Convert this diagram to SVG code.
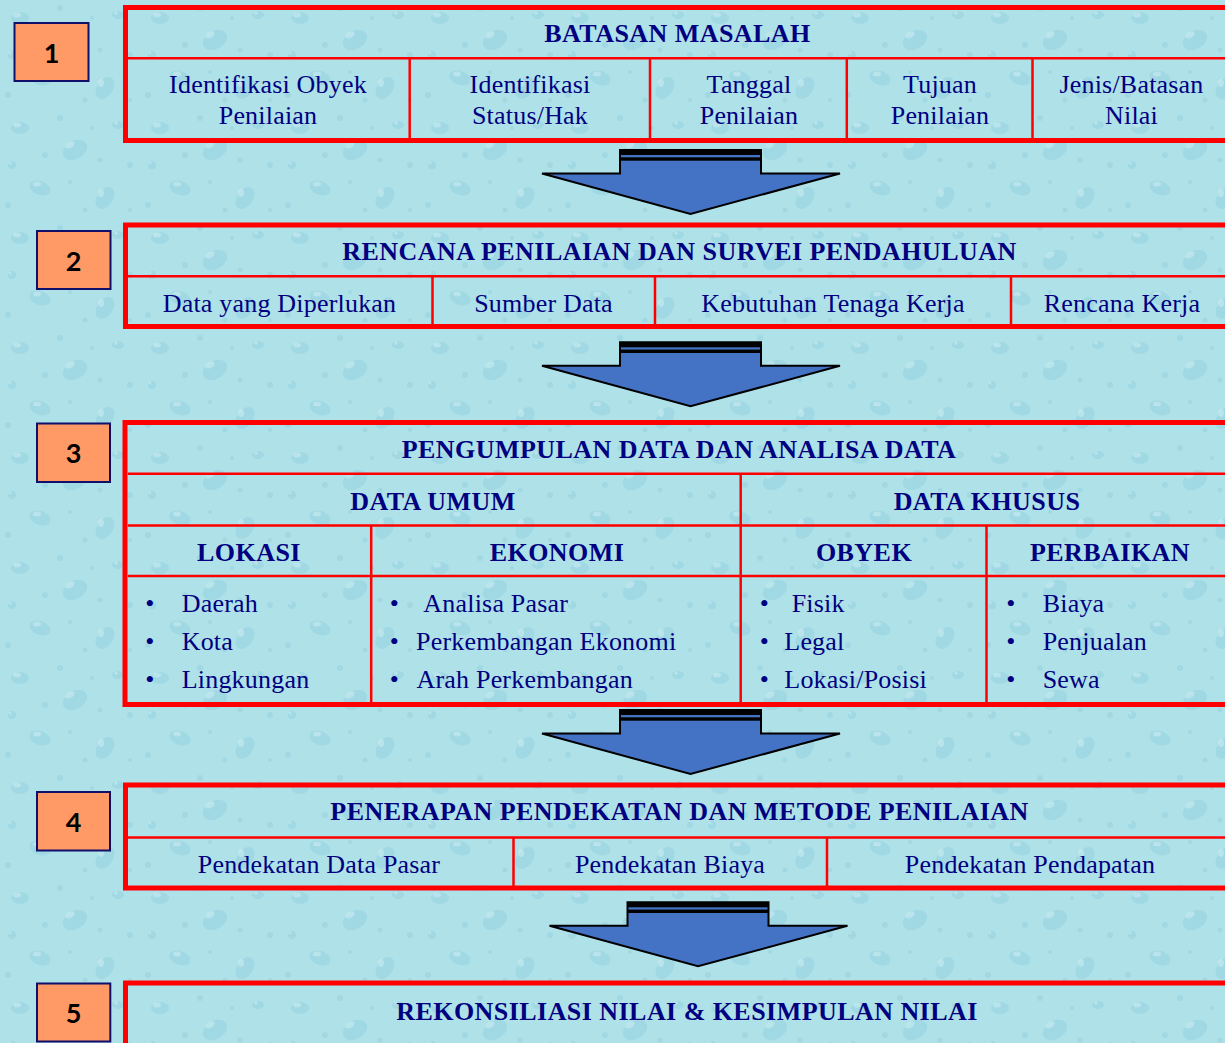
<svg xmlns="http://www.w3.org/2000/svg" width="1225" height="1043" viewBox="0 0 1225 1043">
<style>
.outer{fill:none;stroke:#FF0000;stroke-width:5}
.inner{fill:none;stroke:#FF0000;stroke-width:2.5}
.num rect{fill:#FF9966;stroke:#10106A;stroke-width:2}
.num text{font-family:Lato,"Open Sans",sans-serif;font-weight:700;font-size:27px;fill:#000;text-anchor:middle}
.t{font-family:"Liberation Serif","Times New Roman",serif;font-size:26px;fill:#000080;letter-spacing:0.2px}
.c{text-anchor:middle}
.b{font-weight:700;letter-spacing:0.45px}
</style>
<defs>
<pattern id="drops" width="140" height="110" patternUnits="userSpaceOnUse">
<rect width="140" height="110" fill="#AFE1E9"/>
<g fill="#8ACBD8" opacity="0.4">
<ellipse cx="20" cy="18" rx="9" ry="6"/>
<ellipse cx="75" cy="40" rx="13" ry="9" transform="rotate(-30 75 40)"/>
<ellipse cx="118" cy="15" rx="6" ry="4"/>
<ellipse cx="40" cy="78" rx="11" ry="7" transform="rotate(20 40 78)"/>
<ellipse cx="105" cy="88" rx="8" ry="12" transform="rotate(35 105 88)"/>
<circle cx="60" cy="8" r="3"/>
<circle cx="12" cy="55" r="4"/>
<circle cx="130" cy="55" r="3"/>
<circle cx="85" cy="100" r="2.5"/>
<circle cx="100" cy="50" r="2.5"/>
<circle cx="45" cy="45" r="3"/>
<circle cx="70" cy="72" r="2"/>
<circle cx="130" cy="100" r="2"/>
<circle cx="8" cy="95" r="3"/>
<circle cx="92" cy="18" r="2"/>
</g>
<g fill="#CDEEF3" opacity="0.55">
<ellipse cx="17" cy="15" rx="4" ry="2.5"/>
<ellipse cx="70" cy="35" rx="5" ry="3" transform="rotate(-30 70 35)"/>
<ellipse cx="37" cy="74" rx="4" ry="2.5"/>
<ellipse cx="101" cy="83" rx="3" ry="4"/>
<circle cx="116" cy="13" r="1.8"/>
<circle cx="10" cy="53" r="1.5"/>
</g>
</pattern>
<g id="arrow">
<polygon points="-70.5,0 70.5,0 70.5,23.5 149.5,23.5 0,64 -148.5,23.5 -70.5,23.5" fill="#4472C4" stroke="#000" stroke-width="2" stroke-linejoin="miter"/>
<rect x="-70.5" y="0" width="141" height="5" fill="#000"/>
<rect x="-70.5" y="7.3" width="141" height="3.4" fill="#000"/>
</g>
</defs>
<rect x="0" y="0" width="1225" height="1043" fill="url(#drops)"/>

<g id="connectors">
<use href="#arrow" transform="translate(690.5,150)"/>
<use href="#arrow" transform="translate(690.5,342.3)"/>
<use href="#arrow" transform="translate(690.5,710)"/>
<use href="#arrow" transform="translate(698,902.3)"/>
</g>

<g id="step1">
<g class="num"><rect x="14.5" y="23" width="74" height="58"/><text x="51.5" y="62.5">1</text></g>
<rect class="outer" x="125.5" y="7.5" width="1120" height="133"/>
<line class="inner" x1="128" y1="58.3" x2="1240" y2="58.3"/>
<line class="inner" x1="409.7" y1="58.3" x2="409.7" y2="138"/>
<line class="inner" x1="650" y1="58.3" x2="650" y2="138"/>
<line class="inner" x1="846.8" y1="58.3" x2="846.8" y2="138"/>
<line class="inner" x1="1032.5" y1="58.3" x2="1032.5" y2="138"/>
<text class="t c b" x="677.5" y="41.5">BATASAN MASALAH</text>
<text class="t c" x="268" y="92.7">Identifikasi Obyek</text>
<text class="t c" x="268" y="124">Penilaian</text>
<text class="t c" x="530" y="92.7">Identifikasi</text>
<text class="t c" x="530" y="124">Status/Hak</text>
<text class="t c" x="749" y="92.7">Tanggal</text>
<text class="t c" x="749" y="124">Penilaian</text>
<text class="t c" x="940" y="92.7">Tujuan</text>
<text class="t c" x="940" y="124">Penilaian</text>
<text class="t c" x="1131.5" y="92.7">Jenis/Batasan</text>
<text class="t c" x="1131.5" y="124">Nilai</text>
</g>

<g id="step2">
<g class="num"><rect x="37" y="231" width="73.5" height="58"/><text x="73.7" y="270.5">2</text></g>
<rect class="outer" x="125.5" y="225" width="1120" height="101.5"/>
<line class="inner" x1="128" y1="276.3" x2="1240" y2="276.3"/>
<line class="inner" x1="432.5" y1="276.3" x2="432.5" y2="324"/>
<line class="inner" x1="655" y1="276.3" x2="655" y2="324"/>
<line class="inner" x1="1011" y1="276.3" x2="1011" y2="324"/>
<text class="t c b" x="679.5" y="259.5">RENCANA PENILAIAN DAN SURVEI PENDAHULUAN</text>
<text class="t c" x="279.5" y="312">Data yang Diperlukan</text>
<text class="t c" x="543.5" y="312">Sumber Data</text>
<text class="t c" x="833" y="312">Kebutuhan Tenaga Kerja</text>
<text class="t c" x="1122" y="312">Rencana Kerja</text>
</g>

<g id="step3">
<g class="num"><rect x="37" y="423.5" width="73" height="58.5"/><text x="73.5" y="463">3</text></g>
<rect class="outer" x="125" y="422.5" width="1120" height="282"/>
<line class="inner" x1="128" y1="473.8" x2="1240" y2="473.8"/>
<line class="inner" x1="128" y1="525.4" x2="1240" y2="525.4"/>
<line class="inner" x1="128" y1="576" x2="1240" y2="576"/>
<line class="inner" x1="740.7" y1="473.8" x2="740.7" y2="702"/>
<line class="inner" x1="371.2" y1="525.4" x2="371.2" y2="702"/>
<line class="inner" x1="986.5" y1="525.4" x2="986.5" y2="702"/>
<text class="t c b" x="679" y="458.3">PENGUMPULAN DATA DAN ANALISA DATA</text>
<text class="t c b" x="433" y="510">DATA UMUM</text>
<text class="t c b" x="987" y="510">DATA KHUSUS</text>
<text class="t c b" x="249" y="560.5">LOKASI</text>
<text class="t c b" x="557" y="560.5">EKONOMI</text>
<text class="t c b" x="864" y="560.5">OBYEK</text>
<text class="t c b" x="1110" y="560.5">PERBAIKAN</text>
<g class="t c">
<text x="150" y="611.7">•</text><text x="150" y="650">•</text><text x="150" y="688.3">•</text>
<text x="394.5" y="611.7">•</text><text x="394.5" y="650">•</text><text x="394.5" y="688.3">•</text>
<text x="764.5" y="611.7">•</text><text x="764.5" y="650">•</text><text x="764.5" y="688.3">•</text>
<text x="1011" y="611.7">•</text><text x="1011" y="650">•</text><text x="1011" y="688.3">•</text>
</g>
<text class="t" x="181.7" y="611.7">Daerah</text>
<text class="t" x="181.7" y="650">Kota</text>
<text class="t" x="181.7" y="688.3">Lingkungan</text>
<text class="t" x="423.3" y="611.7">Analisa Pasar</text>
<text class="t" x="416" y="650">Perkembangan Ekonomi</text>
<text class="t" x="416.5" y="688.3">Arah Perkembangan</text>
<text class="t" x="791.7" y="611.7">Fisik</text>
<text class="t" x="784.3" y="650">Legal</text>
<text class="t" x="784.3" y="688.3">Lokasi/Posisi</text>
<text class="t" x="1042.7" y="611.7">Biaya</text>
<text class="t" x="1042.7" y="650">Penjualan</text>
<text class="t" x="1042.7" y="688.3">Sewa</text>
</g>

<g id="step4">
<g class="num"><rect x="37" y="792" width="73" height="58.5"/><text x="73.5" y="831.5">4</text></g>
<rect class="outer" x="125.5" y="785" width="1120" height="103"/>
<line class="inner" x1="128" y1="837.5" x2="1240" y2="837.5"/>
<line class="inner" x1="513.5" y1="837.5" x2="513.5" y2="886"/>
<line class="inner" x1="827" y1="837.5" x2="827" y2="886"/>
<text class="t c b" x="679.5" y="820">PENERAPAN PENDEKATAN DAN METODE PENILAIAN</text>
<text class="t c" x="319" y="872.5">Pendekatan Data Pasar</text>
<text class="t c" x="670" y="872.5">Pendekatan Biaya</text>
<text class="t c" x="1030" y="872.5">Pendekatan Pendapatan</text>
</g>

<g id="step5">
<g class="num"><rect x="37" y="983.5" width="73.3" height="58"/><text x="73.6" y="1023">5</text></g>
<rect class="outer" x="125.5" y="983" width="1120" height="80"/>
<text class="t c b" x="687" y="1019.5">REKONSILIASI NILAI &amp; KESIMPULAN NILAI</text>
</g>
</svg>
